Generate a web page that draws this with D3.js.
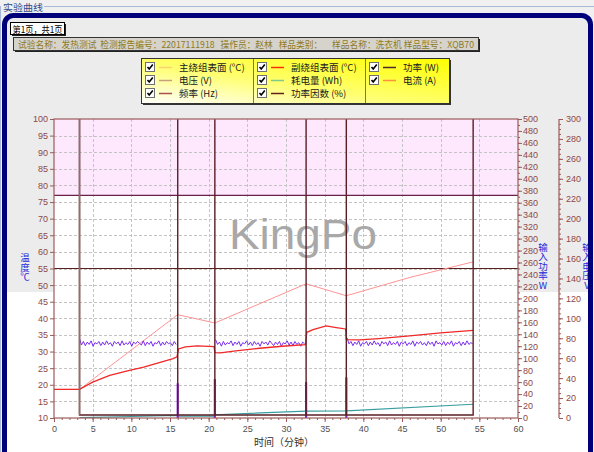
<!DOCTYPE html>
<html><head><meta charset="utf-8">
<script src="https://cdn.jsdelivr.net/npm/d3@7"></script>
<style>
body{margin:0;background:#f0f0f0;}
svg{display:block;}
text{font-family:"Liberation Sans","DejaVu Sans",sans-serif;}
.cjk{font-family:"Noto Sans CJK SC","DejaVu Sans",sans-serif;}
.vt{writing-mode:vertical-rl;text-orientation:upright;}
</style></head>
<body>
<svg id="c" width="594" height="452"></svg>
<script>
// ---------- data ----------
const xTicks = d3.range(0, 61, 5);
const tempTicks = d3.range(10, 101, 5);
const powerTicks = d3.range(0, 501, 20);
const voltTicks = d3.range(0, 301, 20);

const limitLines = [77, 55];
const alarmZone = [77, 100];

// 主绕组表面 (°C)
const mainT = [0, 3.3, 16.0, 20.8, 32.6, 37.8, 46, 54.2];
const mainV = [18.6, 18.6, 41.1, 38.6, 50.4, 46.8, 52.3, 57.0];

// 副绕组表面 (°C)
const subT = [0,3.3,5,7.2,9.5,11.6,13.5,15.4,15.9,16.1,17,18.5,20.7,20.8,21.5,23.5,26.6,29.5,32.5,32.7,33.5,35.2,36.5,37.7,37.8,39.5,42,46,50,54.2];
const subV = [18.6,18.6,20.8,22.8,24.2,25.3,26.6,27.9,28.4,30.8,31.4,31.7,31.5,29.7,29.6,30.2,31.0,31.6,32.1,35.8,36.6,37.7,37.2,36.8,33.6,33.5,33.9,34.7,35.6,36.4];

// 功率 (W) — sampled every 0.25 min in three running segments
const powerStep = 0.25;
const powerSeg1Start = 3.3, powerSeg1 = [133,122,128,121,127,123,129,120,126,124,128,121,127,122,129,123,126,120,128,124,127,121,129,122,126,123,128,120,127,124,128,125,122,129,121,127,123,128,120,126,124,129,121,127,122,128,124,126,121,128,123];
const powerSeg2Start = 20.9, powerSeg2 = [131,123,127,120,128,122,126,124,129,121,127,123,128,120,126,124,129,122,127,121,128,123,126,120,128,124,127,122,129,125,121,127,123,128,120,126,124,129,122,127,121,128,123,126,120,127,124];
const powerSeg3Start = 37.9, powerSeg3 = [134,124,128,121,127,123,129,120,126,124,128,121,127,122,129,123,126,120,128,124,127,121,129,122,126,123,128,120,127,124,128,121,126,123,129,120,127,124,128,122,126,121,128,123,127,120,129,124,126,122,128,121,127,123,129,120,126,124,128,121,127,122,129,123,126,124];
// switching spikes while stopped
const spikeT = [16.0, 20.8, 32.6, 37.8];
const spikeV = [58, 65, 60, 68];

// 耗电量 (Wh)
const energyT = [3.3, 10, 15.9, 16.0, 20.8, 20.9, 32.6, 37.8, 54.2];
const energyV = [0.5, 2.5, 4.5, 3.0, 3.0, 5.5, 11.5, 12.0, 23.0];

// 功率因数 (%)
const pfT = [3.3,3.3,16.0,16.0,16.0,20.8,20.8,20.8,32.6,32.6,32.6,37.8,37.8,37.8,54.2,54.2];
const pfV = [100,1,1,100,1,1,100,1,1,100,1,1,100,1,1,100];

const legendItems = [
  ["主绕组表面 (°C)", "#ffd070"], ["电压 (V)", "#c8a080"], ["频率 (Hz)", "#a85050"],
  ["副绕组表面 (°C)", "#ff3000"], ["耗电量 (Wh)", "#80c890"], ["功率因数 (%)", "#602020"],
  ["功率 (W)", "#502828"], ["电流 (A)", "#ff9040"]
];
const infoText = "试验名称：发热测试  检测报告编号：22017111918   操作员：赵林   样品类别：     样品名称：洗衣机 样品型号：XQB70";

// ---------- drawing ----------
const svg = d3.select("#c");
const L = 54, R = 518, T = 119, B = 418;
const x = d3.scaleLinear([0, 60], [L, R]);
const yT = d3.scaleLinear([10, 100], [B, T]);
const yP = d3.scaleLinear([0, 500], [B, T]);
const yV = d3.scaleLinear([0, 300], [B, T]);
const yPF = d3.scaleLinear([0, 100], [B, T]);

// group box
svg.append("rect").attr("width",594).attr("height",452).attr("fill","#f0f0f0");
svg.append("line").attr("x1",44).attr("x2",594).attr("y1",6.5).attr("y2",6.5).attr("stroke","#a8b8d8");
svg.append("line").attr("x1",0.5).attr("x2",0.5).attr("y1",6).attr("y2",452).attr("stroke","#a8b8d8");
svg.append("text").attr("class","cjk").attr("x",3).attr("y",11).attr("font-size",9.5).attr("fill","#304a8a")
  .attr("textLength",40).attr("lengthAdjust","spacingAndGlyphs").text("实验曲线");

// inner panel
svg.append("rect").attr("x",5).attr("y",16).attr("width",584).attr("height",276).attr("fill","#ececec");
svg.append("rect").attr("x",5).attr("y",292).attr("width",584).attr("height",170).attr("fill","#ffffff");

// page label
svg.append("rect").attr("x",12).attr("y",24).attr("width",54).attr("height",12).attr("fill","#222");
svg.append("rect").attr("x",10.5).attr("y",22.5).attr("width",54).attr("height",12).attr("fill","#fff").attr("stroke","#000");
svg.append("text").attr("class","cjk").attr("x",12.5).attr("y",32.5).attr("font-size",9.5).attr("fill","#000")
  .attr("textLength",50).attr("lengthAdjust","spacingAndGlyphs").text("第1页，共1页");

// info bar
svg.append("rect").attr("x",15).attr("y",39).attr("width",465).attr("height",13).attr("fill","#222");
svg.append("rect").attr("x",13.5).attr("y",37.5).attr("width",465).attr("height",13).attr("fill","#d6d3cc").attr("stroke","#333");
svg.append("text").attr("class","cjk").attr("x",18).attr("y",47.5).attr("font-size",9.5).attr("fill","#8f7a1c")
  .attr("xml:space","preserve").attr("textLength",456).attr("lengthAdjust","spacingAndGlyphs").text(infoText);

// legend
const defs = svg.append("defs");
const g1 = defs.append("linearGradient").attr("id","lg").attr("x1","0").attr("y1","1").attr("x2","1").attr("y2","0");
g1.append("stop").attr("offset","0").attr("stop-color","#ffffff");
g1.append("stop").attr("offset","0.45").attr("stop-color","#ffff70");
g1.append("stop").attr("offset","1").attr("stop-color","#ffff00");
svg.append("rect").attr("x",143).attr("y",60).attr("width",308).attr("height",45).attr("fill","#333");
svg.append("rect").attr("x",141.5).attr("y",58.5).attr("width",308).attr("height",45).attr("fill","url(#lg)").attr("stroke","#333");
[253.5, 365.5].forEach(xx => svg.append("line").attr("x1",xx).attr("x2",xx).attr("y1",59).attr("y2",103).attr("stroke","#e04848"));
const colX = [145, 257, 369];
legendItems.forEach((d, i) => {
  const col = Math.floor(i / 3), row = i % 3;
  const cx = colX[col], cy = 67 + row * 13;
  const g = svg.append("g");
  g.append("rect").attr("x",cx+0.5).attr("y",cy-4.5).attr("width",9).attr("height",9).attr("fill","#fff").attr("stroke","#707070");
  g.append("path").attr("d",`M${cx+2.5},${cy} L${cx+4.2},${cy+2} L${cx+7.8},${cy-2.5}`).attr("fill","none").attr("stroke","#000").attr("stroke-width",1.6);
  g.append("line").attr("x1",cx+14).attr("x2",cx+27).attr("y1",cy+0.5).attr("y2",cy+0.5).attr("stroke",d[1]).attr("stroke-width",1.5);
  g.append("text").attr("class","cjk").attr("x",cx+34).attr("y",cy+3.5).attr("font-size",9.5).attr("fill","#202020").text(d[0]);
});

// plot background
svg.append("rect").attr("x",L).attr("y",T).attr("width",R-L).attr("height",B-T).attr("fill","#fff");
svg.append("rect").attr("x",L).attr("y",yT(alarmZone[1])).attr("width",R-L)
  .attr("height",yT(alarmZone[0])-yT(alarmZone[1])).attr("fill","#fde8fd");

// grid
const grid = svg.append("g").attr("stroke","#c4c4c4").attr("stroke-dasharray","3,2");
tempTicks.slice(1,-1).forEach(v => grid.append("line").attr("x1",L).attr("x2",R).attr("y1",Math.round(yT(v))+0.5).attr("y2",Math.round(yT(v))+0.5));
xTicks.slice(1,-1).forEach(v => grid.append("line").attr("y1",T).attr("y2",B).attr("x1",Math.round(x(v))+0.5).attr("x2",Math.round(x(v))+0.5));

// watermark
svg.append("text").attr("x",303).attr("y",249).attr("text-anchor","middle").attr("font-family","DejaVu Sans")
  .attr("font-size",43).attr("fill","#a8a8a8").attr("textLength",148).attr("lengthAdjust","spacingAndGlyphs").text("KingPo");

// limit lines
limitLines.forEach((v,i) => svg.append("line").attr("x1",L).attr("x2",R).attr("y1",yT(v)).attr("y2",yT(v))
  .attr("stroke", i===0 ? "#6a2048" : "#5a2020").attr("stroke-width",1.2));

const clip = defs.append("clipPath").attr("id","pc");
clip.append("rect").attr("x",L).attr("y",T).attr("width",R-L).attr("height",B-T);
const plot = svg.append("g").attr("clip-path","url(#pc)");

const lineOf = (ys) => d3.line().x(d => x(d[0])).y(d => ys(d[1]));

// energy
plot.append("path").datum(energyT.map((t,i)=>[t,energyV[i]])).attr("d",lineOf(yP))
  .attr("fill","none").attr("stroke","#3a9ea0").attr("stroke-width",1.2);

// main winding
plot.append("path").datum(mainT.map((t,i)=>[t,mainV[i]])).attr("d",lineOf(yT))
  .attr("fill","none").attr("stroke","#ff9494").attr("stroke-width",1);

// power segments
const segs = [[powerSeg1Start,powerSeg1],[powerSeg2Start,powerSeg2],[powerSeg3Start,powerSeg3]];
segs.forEach(([s, vals]) => {
  plot.append("path").datum(vals.map((v,i)=>[s+i*powerStep, v])).attr("d",lineOf(yP))
    .attr("fill","none").attr("stroke","#7a2cf0").attr("stroke-width",1);
});
spikeT.forEach((t, k) => {
  plot.append("line").attr("x1",x(t)).attr("x2",x(t)).attr("y1",yP(0)).attr("y2",yP(spikeV[k]))
    .attr("stroke","#8a20d0").attr("stroke-width",2.2);
});

// sub winding
plot.append("path").datum(subT.map((t,i)=>[t,subV[i]])).attr("d",lineOf(yT))
  .attr("fill","none").attr("stroke","#f02828").attr("stroke-width",1.3);

// power factor
plot.append("path").datum(pfT.map((t,i)=>[t,pfV[i]])).attr("d",lineOf(yPF))
  .attr("fill","none").attr("stroke","#5a1e24").attr("stroke-width",1.4);
plot.append("line").attr("x1",x(pfT[0])).attr("x2",x(pfT[1])).attr("y1",yPF(pfV[0])).attr("y2",yPF(pfV[1]))
  .attr("stroke","#8a7070").attr("stroke-width",1.6);

// frame
svg.append("rect").attr("x",L).attr("y",T).attr("width",R-L).attr("height",B-T).attr("fill","none").attr("stroke","#9c5a5a").attr("stroke-width",1.2);

// axes
const axColor = "#9c5a5a", labColor = "#8c4848";
function style(g, col){
  g.selectAll(".domain").remove();
  g.selectAll(".tick line").attr("stroke",axColor);
  g.selectAll("text").attr("fill",col).attr("font-size",9).attr("font-family","Liberation Sans, Arial, sans-serif");
}
const ax1 = svg.append("g").attr("transform",`translate(${L},0)`).call(d3.axisLeft(yT).tickValues(tempTicks).tickSize(4).tickPadding(2));
style(ax1, labColor);

const axX = svg.append("g").attr("transform",`translate(0,${B})`).call(d3.axisBottom(x).tickValues(xTicks).tickSize(4).tickPadding(4));
style(axX, "#505050");
svg.append("g").attr("transform",`translate(0,${B})`).call(d3.axisBottom(x).tickValues(d3.range(0,61,1)).tickSize(2).tickFormat(""))
  .call(g=>{g.selectAll(".domain").remove(); g.selectAll(".tick line").attr("stroke",axColor);});

const axP = svg.append("g").attr("transform",`translate(${R},0)`).call(d3.axisRight(yP).tickValues(powerTicks).tickSize(4).tickPadding(1));
style(axP, labColor);
svg.append("g").attr("transform",`translate(${R},0)`).call(d3.axisRight(yP).tickValues(d3.range(0,501,10)).tickSize(2).tickFormat(""))
  .call(g=>{g.selectAll(".domain").remove(); g.selectAll(".tick line").attr("stroke",axColor);});

const VX = 559;
svg.append("line").attr("x1",VX).attr("x2",VX).attr("y1",T).attr("y2",B).attr("stroke",axColor).attr("stroke-width",1.2);
const axV = svg.append("g").attr("transform",`translate(${VX},0)`).call(d3.axisRight(yV).tickValues(voltTicks).tickSize(4).tickPadding(3));
style(axV, labColor);
svg.append("g").attr("transform",`translate(${VX},0)`).call(d3.axisRight(yV).tickValues(d3.range(0,301,5)).tickSize(2).tickFormat(""))
  .call(g=>{g.selectAll(".domain").remove(); g.selectAll(".tick line").attr("stroke",axColor);});

// axis titles (vertical, upright glyphs)
function vtext(str, xx, yc){
  svg.append("text").attr("class","cjk vt").attr("x",xx).attr("y",yc)
    .attr("text-anchor","middle").attr("font-size",9.5).attr("fill","#2a2ad8").text(str);
}
vtext("温度℃", 25, 267);
vtext("输入功率W", 543, 266);
vtext("输入电压V", 587, 266);
svg.append("text").attr("class","cjk").attr("x",284).attr("y",446).attr("text-anchor","middle").attr("font-size",10).attr("fill","#303030").text("时间（分钟）");

// navy frame
svg.append("rect").attr("x",4.5).attr("y",15.5).attr("width",586).attr("height",460).attr("rx",9)
  .attr("fill","none").attr("stroke","#00007a").attr("stroke-width",5);
</script>
</body></html>
